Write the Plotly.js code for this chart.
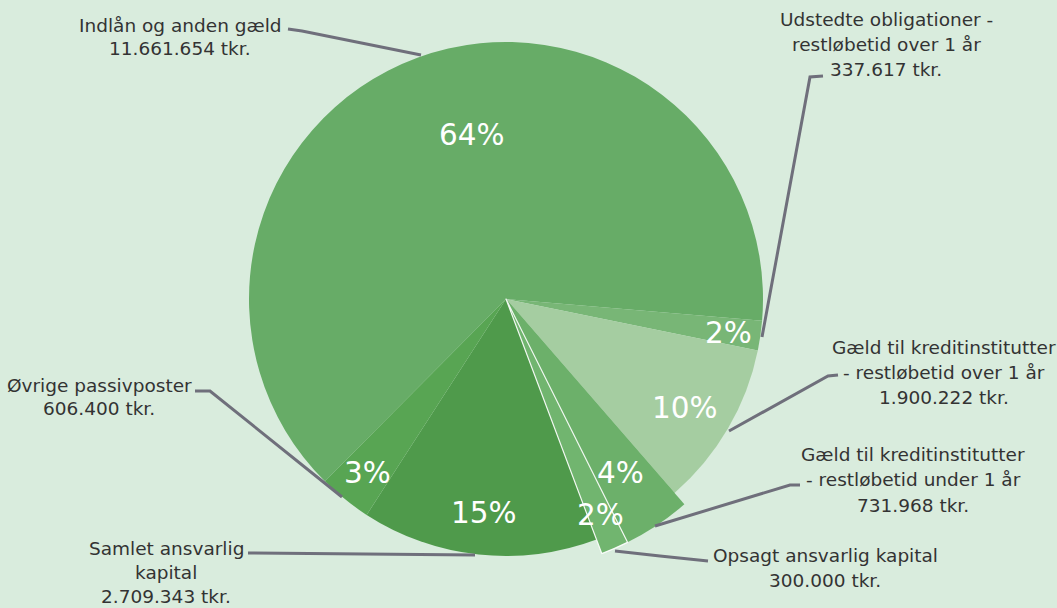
<!DOCTYPE html>
<html>
<head>
<meta charset="utf-8">
<script src="https://cdn.plot.ly/plotly-3.0.1.min.js"></script>
<style>html,body{margin:0;padding:0;background:#d9ecdd;}#chart{width:1057px;height:608px;}</style>
</head>
<body>
<div id="chart"></div>
<script>
// ---- data ----
const categories = [
  'Indlån og anden gæld',
  'Udstedte obligationer - restløbetid over 1 år',
  'Gæld til kreditinstitutter - restløbetid over 1 år',
  'Gæld til kreditinstitutter - restløbetid under 1 år',
  'Opsagt ansvarlig kapital',
  'Samlet ansvarlig kapital',
  'Øvrige passivposter'
];
const values = [11661654, 337617, 1900222, 731968, 300000, 2709343, 606400];
const labelLines = [
  ['Indlån og anden gæld'],
  ['Udstedte obligationer -', 'restløbetid over 1 år'],
  ['Gæld til kreditinstitutter', '- restløbetid over 1 år'],
  ['Gæld til kreditinstitutter', '- restløbetid under 1 år'],
  ['Opsagt ansvarlig kapital'],
  ['Samlet ansvarlig', 'kapital'],
  ['Øvrige passivposter']
];
const unit = 'tkr.';

// ---- styling / layout ----
const W = 1057, H = 608;
const colors = ['#67ac67', '#78b676', '#a5cda1', '#6cb06a', '#71b56f', '#4f9a4b', '#58a553'];
const bigSlices = [false, false, false, true, true, false, false];
const cx = 506, cy = 299, rBase = 257, rBig = 272;
const X = p => p / W, Y = p => 1 - p / H;
function dom(r) { return {x: [X(cx - r), X(cx + r)], y: [Y(cy + r), Y(cy - r)]}; }

const total = values.reduce((a, b) => a + b, 0);
const pct = values.map(v => Math.round(v / total * 100) + '%');
const fmt = v => String(v).replace(/\B(?=(\d{3})+(?!\d))/g, '.');

const base = {
  type: 'pie', values: values, labels: categories, sort: false,
  direction: 'clockwise', rotation: -135.2,
  marker: {colors: colors, line: {width: 0}},
  textinfo: 'none', hoverinfo: 'skip', showlegend: false,
  domain: dom(rBase)
};
const big = {
  type: 'pie', values: values, labels: categories, sort: false,
  direction: 'clockwise', rotation: -135.2,
  marker: {
    colors: colors.map((c, i) => bigSlices[i] ? c : 'rgba(0,0,0,0)'),
    line: {color: colors.map((c, i) => i === 4 ? 'rgba(255,255,255,0.9)' : 'rgba(0,0,0,0)'),
           width: colors.map((c, i) => i === 4 ? 1.2 : 0)}
  },
  textinfo: 'none', hoverinfo: 'skip', showlegend: false,
  domain: dom(rBig)
};

// percent label positions (px)
const pctPos = [[472, 135], [728, 333], [685, 408], [620, 473], [600, 515], [484, 513], [367, 473]];
// outside label positions: center x, first-line y, line step (px)
const lblPos = [[180, 25, 23], [886, 19, 25.5], [944, 347, 25], [913, 454, 25.5], [825, 555, 25], [166, 548, 24], [99, 385, 23]];
const leaders = [
  [[288, 29], [302, 31], [421, 55]],
  [[823, 76], [810, 77], [762, 337]],
  [[838, 375], [828, 376], [729, 431]],
  [[800, 485], [790, 485], [655, 526]],
  [[708, 561], [660, 556], [615, 551]],
  [[248, 553], [475, 555]],
  [[195, 391], [210, 391], [342, 497]]
];

const annotations = [];
pct.forEach((t, i) => annotations.push({
  xref: 'paper', yref: 'paper', x: X(pctPos[i][0]), y: Y(pctPos[i][1]),
  xanchor: 'center', yanchor: 'middle', showarrow: false, text: t,
  font: {family: 'DejaVu Sans', size: 29.5, color: '#ffffff'}
}));
labelLines.forEach((lines, i) => {
  const all = lines.concat([fmt(values[i]) + ' ' + unit]);
  all.forEach((ln, j) => annotations.push({
    xref: 'paper', yref: 'paper', x: X(lblPos[i][0]), y: Y(lblPos[i][1] + j * lblPos[i][2]),
    xanchor: 'center', yanchor: 'middle', showarrow: false, text: ln,
    font: {family: 'DejaVu Sans', size: 18.5, color: '#333333'}
  }));
});

const shapes = leaders.map(pts => ({
  type: 'path', xref: 'paper', yref: 'paper',
  path: pts.map((p, k) => (k ? 'L' : 'M') + X(p[0]) + ',' + Y(p[1])).join(' '),
  line: {color: '#6f6f7b', width: 3}
}));

const layout = {
  width: W, height: H,
  margin: {l: 0, r: 0, t: 0, b: 0},
  paper_bgcolor: '#d9ecdd', plot_bgcolor: '#d9ecdd',
  showlegend: false,
  annotations: annotations,
  shapes: shapes
};

Plotly.newPlot('chart', [base, big], layout, {displayModeBar: false, staticPlot: true});
</script>
</body>
</html>
